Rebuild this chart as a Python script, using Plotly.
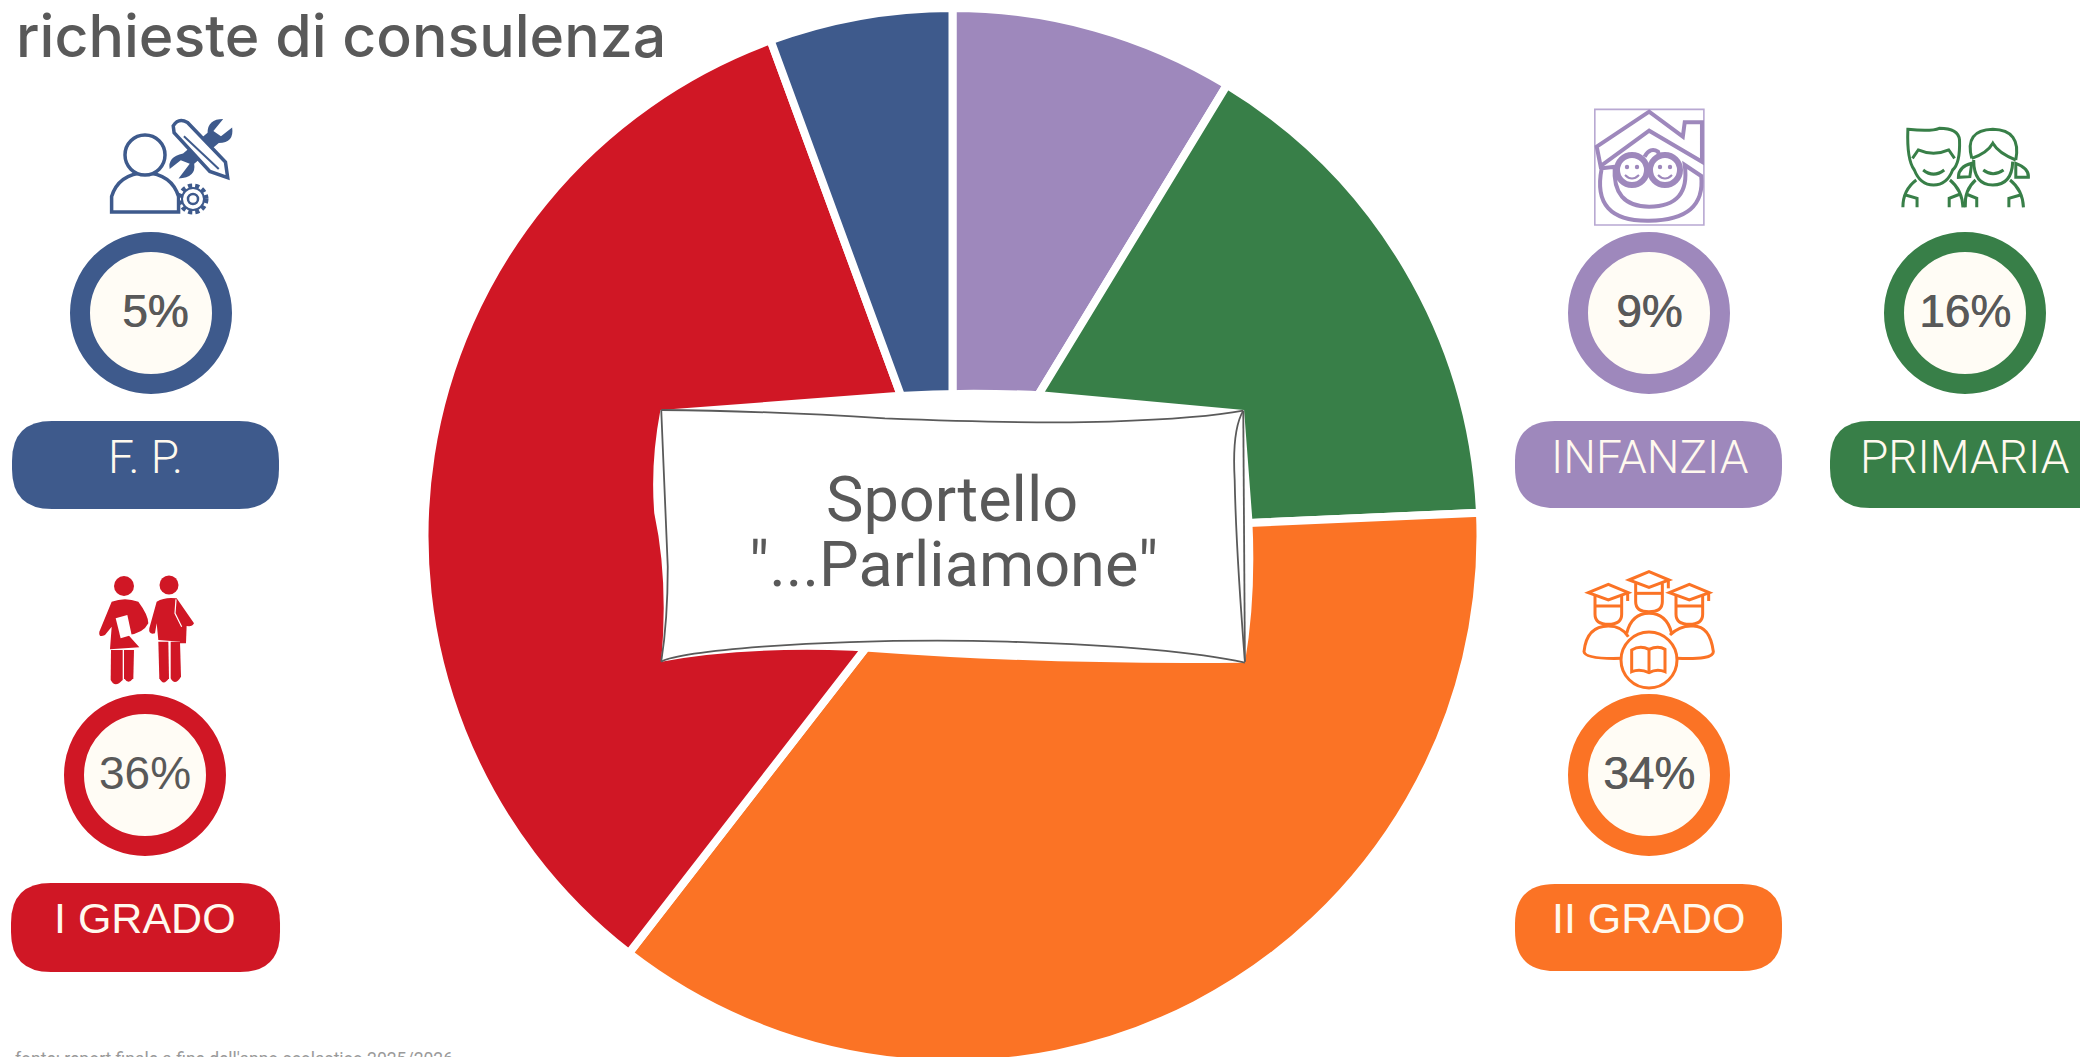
import re
import plotly.graph_objects as go

W, H = 2080, 1100  # canvas runs a little past the 1057 px window: the pie is cut by the page edge

# ---- data ----
categories = ["INFANZIA", "PRIMARIA", "II GRADO", "I GRADO", "F. P."]
slice_shares = [8.7, 15.6, 36.2, 33.9, 5.6]
percent_labels = ["9%", "16%", "34%", "36%", "5%"]
colors = ["#9E88BC", "#387F48", "#FB7325", "#D01725", "#3E5A8C"]
title_text = "richieste di consulenza"
center_lines = ["Sportello", '"...Parliamone"']
footer_text = "fonte: report finale a fine dell'anno scolastico 2025/2026"

GREY = "#595959"
CREAM = "#FFFCF5"

# badge layout: category -> ring centre, pill box, label centre
layout_spec = {
    "INFANZIA": dict(c=(1649, 313), pill=(1515, 421, 1782, 508), lab=(1650, 457)),
    "PRIMARIA": dict(c=(1965, 313), pill=(1830, 421, 2120, 508), lab=(1965, 457)),
    "II GRADO": dict(c=(1649, 775), pill=(1515, 884, 1782, 971), lab=(1649, 918)),
    "I GRADO": dict(c=(145, 775), pill=(11, 883, 280, 972), lab=(145, 918)),
    "F. P.": dict(c=(151, 313), pill=(12, 421, 279, 509), lab=(145, 457)),
}
pct_offset = {"F. P.": 4}

shapes = []
annotations = []


def fx(x):
    return x / W


def fy(y):
    return 1 - y / H


def tr(path, ox=0, oy=0, sx=1, sy=1):
    """Map a path in pixel-crop coordinates to paper coordinates."""
    idx = [0]

    def rep(m):
        v = float(m.group(0))
        i = idx[0]
        idx[0] += 1
        if i % 2 == 0:
            return f"{fx(ox + v / sx):.5f}"
        return f"{fy(oy + v / sy):.5f}"

    return re.sub(r"-?\d+\.?\d*", rep, path)


def add_path(path, fill=None, line=None, width=0, **kw):
    s = dict(type="path", xref="paper", yref="paper", path=path, layer="above")
    s["fillcolor"] = fill if fill else "rgba(0,0,0,0)"
    s["line"] = dict(color=line if line else "rgba(0,0,0,0)", width=width)
    s["line"].update(kw)
    shapes.append(s)


def add_circle(cx, cy, r, fill=None, line=None, width=0, **kw):
    s = dict(type="circle", xref="paper", yref="paper", layer="above",
             x0=fx(cx - r), x1=fx(cx + r), y0=fy(cy + r), y1=fy(cy - r))
    s["fillcolor"] = fill if fill else "rgba(0,0,0,0)"
    s["line"] = dict(color=line if line else "rgba(0,0,0,0)", width=width)
    s["line"].update(kw)
    shapes.append(s)


def add_text(x, y, text, size, color=GREY, family="Liberation Sans", weight=400, xanchor="center", shadow=None):
    font = dict(size=size, color=color, family=family, weight=weight)
    if shadow:
        font["shadow"] = shadow
    annotations.append(dict(
        xref="paper", yref="paper", x=fx(x), y=fy(y), text=text, showarrow=False,
        xanchor=xanchor, yanchor="middle", align="center",
        font=font,
    ))


# ---- central wavy panel ----
S4 = dict(ox=640, oy=380, sx=2.45, sy=3)
add_path(tr("M50,90 L620,37 Q800,22 995,35 L1480,90 L1500,415 Q1510,650 1482,848 "
            "Q1000,855 560,815 L520,812 Q250,800 52,845 Q70,600 35,400 Q25,250 50,90 Z", **S4),
         fill="#FFFFFF")
for p in [
    "M52,90 Q300,92 600,115 Q950,132 1150,125 Q1380,115 1478,92",
    "M1478,92 Q1450,150 1457,300 Q1460,500 1482,845",
    "M1478,92 L1482,845",
    "M52,90 Q60,300 68,560 Q68,720 52,845",
    "M52,845 Q90,820 300,800 Q600,775 900,785 Q1300,800 1482,848",
]:
    add_path(tr(p, **S4), line="#5A5A5A", width=1.8)

# ---- badges ----
for cat, pct, col in zip(categories, percent_labels, colors):
    spec = layout_spec[cat]
    cx, cy = spec["c"]
    add_circle(cx, cy, 71, fill=CREAM, line=col, width=20)
    x0, y0, x1, y1 = spec["pill"]
    r = 40
    add_path(tr(f"M{x0 + r},{y0} L{x1 - r},{y0} Q{x1},{y0} {x1},{y0 + r} L{x1},{y1 - r} "
                f"Q{x1},{y1} {x1 - r},{y1} L{x0 + r},{y1} Q{x0},{y1} {x0},{y1 - r} "
                f"L{x0},{y0 + r} Q{x0},{y0} {x0 + r},{y0} Z"), fill=col)
    add_text(cx + pct_offset.get(cat, 0), cy - 2, pct, 46,
             shadow=None if cat == "I GRADO" else "0.7px 0 0 #595959")
    is_grado = "GRADO" in cat
    add_text(spec["lab"][0], spec["lab"][1], cat, 43 if is_grado else 46,
             color="#FFF9EE", family="Liberation Sans" if is_grado else "Roboto",
             weight=400 if is_grado else 300)

# ---- icons ----
# F.P. icon
c = colors[4]
S1 = dict(sx=2.24, sy=2.9)
add_path(tr("M250,615 L400,615 L400,570 Q385,505 325,500 Q265,505 250,570 Z", **S1), line=c, width=3.5)
add_circle(145, 155, 20, line=c, width=3.5, fill="#FFFFFF")
add_path(tr("M500,345 Q465,345 465,385 L410,445 Q375,455 380,490 L405,465 L425,475 L400,518 "
            "Q440,515 435,475 L490,415 Q525,415 520,370 L495,395 L478,380 Z", **S1), fill=c)
add_path(tr("M388,365 Q400,340 420,355 L505,470 L510,515 L470,497 L390,385 Z", **S1),
         fill="#FFFFFF", line=c, width=3.5)
add_path(tr("M412,395 L490,490", **S1), line=c, width=2)
add_circle(193, 199, 13, line=c, width=5, dash="4px,3px", fill="#FFFFFF")
add_circle(193, 199, 11, line=c, width=2)
add_circle(193, 199, 5, line=c, width=2.5)

# INFANZIA icon
c = colors[0]
S2 = dict(ox=1480, oy=90, sx=2.613, sy=3)
add_path(tr("M300,58 L585,58 L585,405 L300,405 Z", **S2), line="#B8A8D2", width=1.6)
add_path(tr("M305,170 L442,65 L530,140 L535,97 L580,97 L580,215 L442,122 L315,228 Z", **S2), line=c, width=4)
add_path(tr("M318,235 Q290,395 442,392 Q590,390 578,258 L535,225 Q550,350 442,350 Q345,350 352,230 Z", **S2),
         line=c, width=4)
add_path(tr("M430,200 Q445,170 465,185 L470,200", **S2), line=c, width=4)
for fxc in (1632, 1665):
    add_circle(fxc, 170, 15, line=c, width=6, fill="#FFFFFF")
    add_circle(fxc - 5, 167, 2.2, fill=c)
    add_circle(fxc + 5, 167, 2.2, fill=c)
    add_path(tr(f"M{fxc - 7},175 Q{fxc},182 {fxc + 7},175"), line=c, width=2)

# PRIMARIA icon
c = colors[1]
for p in [
    "M1118,118 Q1180,125 1200,115 Q1250,115 1253,150 Q1255,220 1235,240 Q1220,285 1185,285 Q1150,285 1135,240 Q1115,210 1118,118 Z",
    "M1130,205 L1145,180 Q1185,200 1225,180 L1240,205",
    "M1158,240 Q1185,265 1213,240",
    "M1140,270 Q1105,300 1105,352", "M1112,315 L1142,325 L1142,352",
    "M1228,270 Q1260,300 1262,352", "M1255,312 L1226,325 L1226,352",
    "M1285,205 Q1265,120 1340,118 Q1415,120 1400,210",
    "M1285,205 Q1325,190 1340,160 Q1355,190 1400,210",
    "M1290,210 Q1290,285 1340,285 Q1390,285 1392,215",
    "M1285,220 Q1250,230 1250,262 L1280,260 Z", "M1400,220 Q1435,235 1433,262 L1400,262 Z",
    "M1315,240 Q1340,262 1368,240",
    "M1295,270 Q1265,300 1268,352", "M1270,312 L1298,325 L1298,352",
    "M1385,270 Q1418,300 1420,352", "M1412,315 L1382,325 L1382,352",
]:
    add_path(tr(p, **S2), line=c, width=3)

# I GRADO icon
c = colors[3]
S3 = dict(oy=560, sx=3, sy=3)
add_circle(124, 586, 10, fill=c)
add_circle(169, 585, 9.5, fill=c)
for p in [
    "M335,125 Q375,110 415,125 Q445,165 445,190 Q430,220 385,225 L418,262 L330,268 L335,200 L315,225 Q295,235 298,215 Z",
    "M333,270 L368,270 L368,360 Q345,385 332,360 Z",
    "M372,270 L402,270 L400,355 Q385,375 372,355 Z",
    "M470,125 Q495,110 530,115 L582,190 Q575,205 550,195 L543,245 L475,240 L470,190 L465,220 Q445,225 448,205 Z",
    "M475,245 L505,245 L507,355 Q490,380 478,355 Z",
    "M512,245 L540,245 L543,350 Q525,380 512,355 Z",
    "M540,195 L560,195 L558,250 L540,250 Z",
]:
    add_path(tr(p, **S3), fill=c)
add_path(tr("M347,175 L382,165 L395,225 L362,235 Z", **S3), fill="#FFFFFF")
add_path(tr("M528,118 L525,160 L545,200", **S3), line="#FFFFFF", width=1.2)

# II GRADO icon
c = colors[2]
S5 = dict(ox=1480, oy=550, sx=3, sy=3)
for cxc, cyc in ((385, 128), (507, 90), (628, 128)):
    for p in [
        f"M{cxc - 60},{cyc} L{cxc},{cyc - 25} L{cxc + 60},{cyc} L{cxc},{cyc + 22} Z",
        f"M{cxc - 40},{cyc + 10} L{cxc - 40},{cyc + 65} Q{cxc - 40},{cyc + 95} {cxc},{cyc + 95} "
        f"Q{cxc + 40},{cyc + 95} {cxc + 40},{cyc + 65} L{cxc + 40},{cyc + 10}",
        f"M{cxc - 40},{cyc + 40} L{cxc + 40},{cyc + 40}",
        f"M{cxc + 58},{cyc + 2} L{cxc + 58},{cyc + 25}",
    ]:
        add_path(tr(p, **S5), line=c, width=3)
for p in [
    "M425,325 Q315,328 312,305 Q320,228 385,228 Q425,228 445,260",
    "M440,250 Q455,190 507,190 Q560,190 575,250",
    "M590,325 Q700,330 700,305 Q690,228 640,228 Q600,225 570,255",
    "M455,300 Q480,285 507,298 Q535,285 555,298 L555,365 Q530,355 507,368 Q480,355 455,365 Z",
    "M507,298 L507,368",
]:
    add_path(tr(p, **S5), line=c, width=3)
add_circle(1649, 660, 28, line=c, width=3)

# ---- texts ----
add_text(14, 36, title_text, 59, family="Inter", weight=500, xanchor="left")
add_text(952, 499, center_lines[0], 63, family="Roboto", weight=400)
add_text(953, 564, center_lines[1], 63, family="Roboto", weight=400)
add_text(13, 1059, footer_text, 17.5, color="#9A9A9A", family="Roboto", xanchor="left")

# ---- pie ----
fig = go.Figure(go.Pie(
    labels=categories,
    values=slice_shares,
    sort=False,
    direction="clockwise",
    rotation=0,
    marker=dict(colors=colors, line=dict(color="#FFFFFF", width=8)),
    textinfo="none",
    hoverinfo="label",
    showlegend=False,
    domain=dict(x=[424.5 / W, 1480.5 / W], y=[1 - 1064 / H, 1 - 8 / H]),
))
fig.update_layout(
    width=W, height=H,
    margin=dict(l=0, r=0, t=0, b=0),
    paper_bgcolor="#FFFFFF",
    plot_bgcolor="#FFFFFF",
    shapes=shapes,
    annotations=annotations,
)
fig.write_html(
    "out.html",
    config=dict(displayModeBar=False),
    post_script="document.body.style.margin='0';document.body.style.overflow='hidden';"
                "document.documentElement.style.overflow='hidden';",
)
